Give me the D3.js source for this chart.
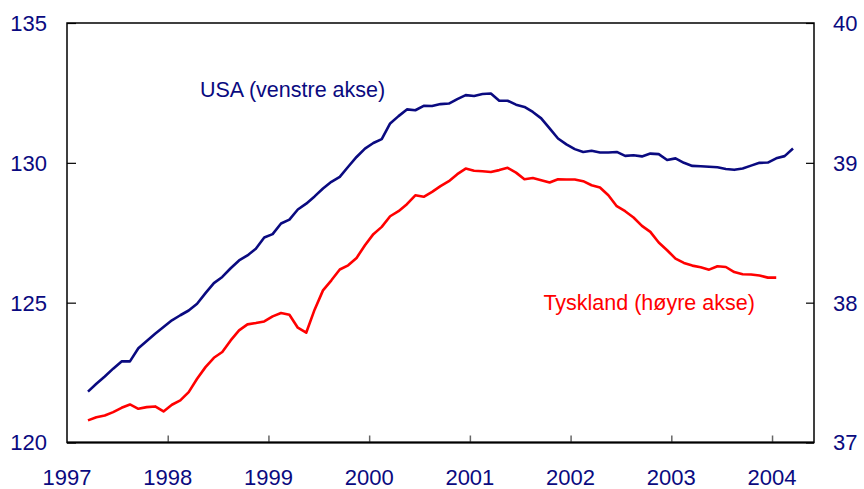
<!DOCTYPE html>
<html>
<head>
<meta charset="utf-8">
<script src="https://cdn.jsdelivr.net/npm/d3@7"></script>
<style>
  body { margin: 0; background: #fff; }
  svg { display: block; font-family: Arial, "Liberation Sans", sans-serif; }
</style>
</head>
<body>
<svg id="chart" width="864" height="489"></svg>
<script>
// monthly series, first point March 1997
const startYear = 1997;
const startMonth = 3;

const usa = [
    121.82, 122.1, 122.36, 122.64, 122.9, 122.9, 123.37, 123.63, 123.89, 124.13,
    124.37, 124.55, 124.72, 124.96, 125.34, 125.7, 125.92, 126.23, 126.51, 126.69, 126.93, 127.33,
    127.45, 127.83, 127.97, 128.33, 128.54, 128.8, 129.08, 129.32, 129.5, 129.86, 130.21, 130.51,
    130.71, 130.85, 131.41, 131.67, 131.91, 131.88, 132.04, 132.03, 132.1, 132.12, 132.28, 132.42,
    132.39, 132.46, 132.48, 132.22, 132.22, 132.08, 132.0, 131.82, 131.59, 131.23, 130.87, 130.66,
    130.49, 130.39, 130.43, 130.37, 130.37, 130.39, 130.25, 130.27, 130.23, 130.33, 130.31, 130.1,
    130.16, 130.0, 129.89, 129.88, 129.86, 129.84, 129.78, 129.75, 129.8, 129.9, 130.0, 130.01,
    130.16, 130.24, 130.51
];

const germany = [
    37.158, 37.181, 37.193, 37.217, 37.248, 37.272, 37.241, 37.253, 37.258, 37.222,
    37.27, 37.301, 37.36, 37.456, 37.539, 37.606, 37.647, 37.73, 37.802, 37.845, 37.854, 37.866,
    37.902, 37.926, 37.914, 37.821, 37.785, 37.95, 38.088, 38.16, 38.237, 38.267, 38.32, 38.41,
    38.49, 38.542, 38.618, 38.654, 38.704, 38.768, 38.757, 38.792, 38.833, 38.869, 38.919, 38.959,
    38.943, 38.94, 38.935, 38.948, 38.964, 38.93, 38.883, 38.892, 38.876, 38.859, 38.883, 38.881,
    38.881, 38.869, 38.84, 38.824, 38.768, 38.69, 38.654, 38.609, 38.549, 38.506, 38.43, 38.375,
    38.315, 38.284, 38.265, 38.253, 38.236, 38.26, 38.255, 38.219, 38.203, 38.201, 38.194, 38.179,
    38.179
];

const yearTicks = [1997, 1998, 1999, 2000, 2001, 2002, 2003, 2004];
const leftTicks = [120, 125, 130, 135];
const rightTicks = [37, 38, 39, 40];

const usaLabel = "USA (venstre akse)";
const germanyLabel = "Tyskland (høyre akse)";

const NAVY = "#0a0a80";
const RED = "#ff0000";

const svg = d3.select("#chart");
const margin = { top: 23, right: 50, bottom: 46.5, left: 67 };
const width = 864;
const height = 489;

const x = d3.scaleLinear()
    .domain([1997, 2004 + 5 / 12])
    .range([margin.left, width - margin.right]);

const yLeft = d3.scaleLinear()
    .domain([120, 135])
    .range([height - margin.bottom, margin.top]);

const yRight = d3.scaleLinear()
    .domain([37, 40])
    .range([height - margin.bottom, margin.top]);

const toTime = i => startYear + (startMonth - 1 + i + 0.5) / 12;

// frame
svg.append("rect")
    .attr("x", margin.left)
    .attr("y", margin.top)
    .attr("width", width - margin.right - margin.left)
    .attr("height", height - margin.bottom - margin.top)
    .attr("fill", "none")
    .attr("stroke", "#000")
    .attr("stroke-width", 1.5);

// left axis
const leftAxis = svg.append("g")
    .attr("transform", `translate(${margin.left},0)`)
    .call(d3.axisRight(yLeft).tickValues(leftTicks).tickSize(9).tickFormat(""));
leftAxis.select(".domain").remove();
leftAxis.selectAll("line").attr("stroke", "#000").attr("stroke-width", 1.2);

svg.append("g").selectAll("text")
    .data(leftTicks)
    .enter()
    .append("text")
    .attr("x", 47)
    .attr("y", d => yLeft(d))
    .attr("dy", "0.36em")
    .attr("text-anchor", "end")
    .attr("fill", NAVY)
    .style("font-size", "22px")
    .text(d => d);

// right axis
const rightAxis = svg.append("g")
    .attr("transform", `translate(${width - margin.right},0)`)
    .call(d3.axisLeft(yRight).tickValues(rightTicks).tickSize(8).tickFormat(""));
rightAxis.select(".domain").remove();
rightAxis.selectAll("line").attr("stroke", "#000").attr("stroke-width", 1.2);

svg.append("g").selectAll("text")
    .data(rightTicks)
    .enter()
    .append("text")
    .attr("x", 833)
    .attr("y", d => yRight(d))
    .attr("dy", "0.36em")
    .attr("fill", NAVY)
    .style("font-size", "22px")
    .text(d => d);

// bottom axis
const bottomAxis = svg.append("g")
    .attr("transform", `translate(0,${height - margin.bottom})`)
    .call(d3.axisTop(x).tickValues(yearTicks.slice(1)).tickSize(7).tickFormat(""));
bottomAxis.select(".domain").remove();
bottomAxis.selectAll("line").attr("stroke", "#666").attr("stroke-width", 1.5);

svg.append("line")
    .attr("x1", margin.left)
    .attr("x2", width - margin.right)
    .attr("y1", height - margin.bottom)
    .attr("y2", height - margin.bottom)
    .attr("stroke", "#000")
    .attr("stroke-width", 2);

svg.append("g").selectAll("text")
    .data(yearTicks)
    .enter()
    .append("text")
    .attr("x", d => x(d))
    .attr("y", 485)
    .attr("text-anchor", "middle")
    .attr("fill", NAVY)
    .style("font-size", "22px")
    .text(d => d);

// lines
const usaLine = d3.line()
    .x((d, i) => x(toTime(i)))
    .y(d => yLeft(d));

const germanyLine = d3.line()
    .x((d, i) => x(toTime(i)))
    .y(d => yRight(d));

svg.append("path")
    .datum(germany)
    .attr("d", germanyLine)
    .attr("fill", "none")
    .attr("stroke", RED)
    .attr("stroke-width", 2.6)
    .attr("stroke-linejoin", "round");

svg.append("path")
    .datum(usa)
    .attr("d", usaLine)
    .attr("fill", "none")
    .attr("stroke", NAVY)
    .attr("stroke-width", 2.6)
    .attr("stroke-linejoin", "round");

// series labels
svg.append("text")
    .attr("x", x(1998.32))
    .attr("y", yLeft(132.35))
    .attr("fill", NAVY)
    .style("font-size", "21.5px")
    .text(usaLabel);

svg.append("text")
    .attr("x", x(2001.73))
    .attr("y", yRight(37.95))
    .attr("fill", RED)
    .style("font-size", "21.5px")
    .text(germanyLabel);
</script>
</body>
</html>
